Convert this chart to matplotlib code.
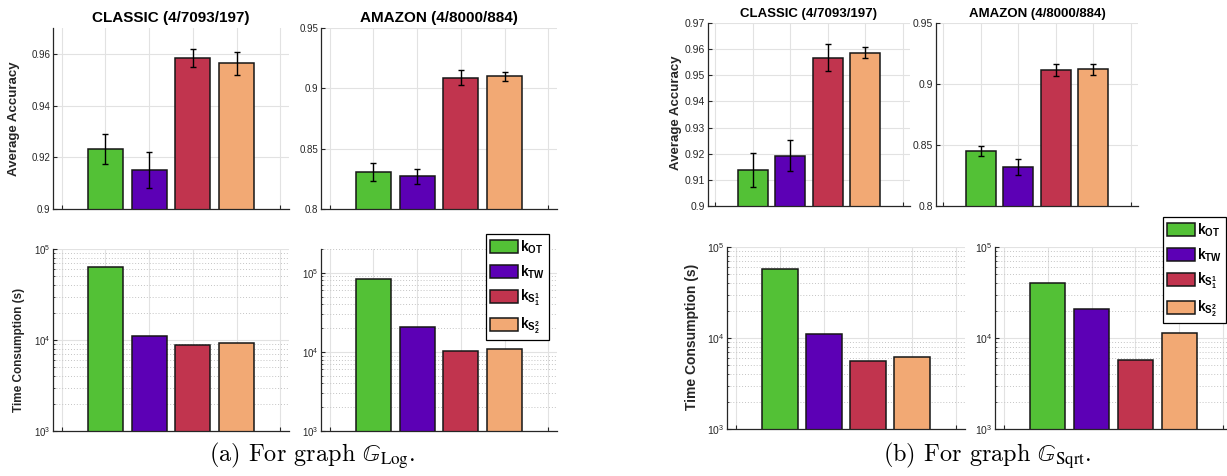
import numpy as np
import matplotlib
matplotlib.use('Agg')
import matplotlib.pyplot as plt
from matplotlib.ticker import FuncFormatter, NullFormatter, LogLocator

plt.rcParams['font.family'] = ['Liberation Sans', 'DejaVu Sans']
plt.rcParams['mathtext.fontset'] = 'custom'
plt.rcParams['mathtext.rm'] = 'Liberation Sans'
plt.rcParams['mathtext.bf'] = 'Liberation Sans:bold'
plt.rcParams['mathtext.it'] = 'Liberation Sans:italic'

W, H = 1227, 476

# legend labels and bar colours
methods = [r'$\mathbf{k_{OT}}$', r'$\mathbf{k_{TW}}$',
           r'$\mathbf{k_{S_1^1}}$', r'$\mathbf{k_{S_2^2}}$']
colors = ['#53C136', '#5C00B5', '#C1344E', '#F2A974']

# (a) graph G_Log
log_classic_acc = [0.9231, 0.9150, 0.9583, 0.9564]
log_classic_err = [0.0058, 0.0069, 0.0034, 0.0044]
log_amazon_acc = [0.8304, 0.8273, 0.9088, 0.9099]
log_amazon_err = [0.0074, 0.0062, 0.0064, 0.0040]
log_classic_time = [63000, 11000, 8750, 9300]
log_amazon_time = [84000, 20500, 10200, 11000]

# (b) graph G_Sqrt
sqrt_classic_acc = [0.9136, 0.9193, 0.9568, 0.9587]
sqrt_classic_err = [0.0065, 0.0060, 0.0052, 0.0021]
sqrt_amazon_acc = [0.8453, 0.8322, 0.9115, 0.9121]
sqrt_amazon_err = [0.0041, 0.0065, 0.0050, 0.0046]
sqrt_classic_time = [57900, 11100, 5650, 6250]
sqrt_amazon_time = [40300, 20800, 5700, 11250]

fig = plt.figure(figsize=(W / 100, H / 100), dpi=100)
x = np.arange(1, 5)


def place(l, t, r, b):
    return fig.add_axes([l / W, 1 - b / H, (r - l) / W, (b - t) / H])


def style(ax, tsize):
    for s in ['top', 'right']:
        ax.spines[s].set_visible(False)
    for s in ['left', 'bottom']:
        ax.spines[s].set_color('#262626')
        ax.spines[s].set_linewidth(0.9)
    ax.set_xlim(-0.2, 5.2)
    ax.set_xticks(range(6))
    ax.set_xticklabels([])
    ax.tick_params(direction='in', length=3, width=0.8, labelsize=tsize,
                   colors='#262626', pad=2)
    ax.grid(True, which='major', color='#E2E2E2', lw=0.8)
    ax.set_axisbelow(True)


def acc_panel(ax, vals, errs, lo, hi, step, title, tsize, fsize):
    style(ax, tsize)
    b = ax.bar(x, vals, width=0.8, color=colors, edgecolor='#161616', lw=1.1)
    ax.errorbar(x, vals, yerr=errs, fmt='none', ecolor='black',
                elinewidth=1, capsize=2.5, capthick=1)
    ax.set_ylim(lo, hi)
    ax.set_yticks(np.arange(lo, hi + 1e-9, step))
    ax.yaxis.set_major_formatter(FuncFormatter(lambda v, p: f'{v:g}'))
    ax.set_title(title, fontsize=fsize, fontweight='bold', pad=4)
    return b


def time_panel(ax, vals, top, tsize):
    style(ax, tsize)
    b = ax.bar(x, vals, width=0.8, color=colors, edgecolor='#161616', lw=1.1)
    ax.set_yscale('log')
    ax.set_ylim(1e3, top)
    ax.yaxis.set_major_locator(LogLocator(base=10, numticks=10))
    ax.yaxis.set_minor_locator(LogLocator(base=10, subs=np.arange(2, 10), numticks=20))
    ax.yaxis.set_minor_formatter(NullFormatter())
    ax.tick_params(which='minor', direction='in', length=1.5, width=0.6, colors='#262626')
    ax.grid(True, which='minor', axis='y', color='#C4C4C4', lw=0.7, linestyle=(0, (1, 2)))
    ax.set_xlim(-0.2, 5.2)
    return b


# (a)
ax = place(53, 28, 289, 209)
acc_panel(ax, log_classic_acc, log_classic_err, 0.9, 0.97, 0.02, 'CLASSIC (4/7093/197)', 7, 11)
ax = place(321, 28, 557, 209)
acc_panel(ax, log_amazon_acc, log_amazon_err, 0.8, 0.95, 0.05, 'AMAZON (4/8000/884)', 7, 11)
ax = place(53, 249, 289, 431)
time_panel(ax, log_classic_time, 1e5, 7)
ax = place(321, 249, 557, 431)
hb = time_panel(ax, log_amazon_time, 2e5, 7)

fig.text(14 / W, 1 - 119 / H, 'Average Accuracy', rotation=90, ha='center', va='center',
         fontsize=9.5, fontweight='bold', color='#262626')
fig.text(19 / W, 1 - 350 / H, 'Time Consumption (s)', rotation=90, ha='center', va='center',
         fontsize=8.5, fontweight='bold', color='#262626')

leg_kw = dict(loc='upper left', borderaxespad=0, fontsize=10, frameon=True, fancybox=False,
              edgecolor='black', framealpha=1, handlelength=2.0, handleheight=1.1,
              handletextpad=0.15, labelspacing=0.55, borderpad=0.3)
lg = fig.legend(hb, methods, bbox_to_anchor=(486 / W, 1 - 234 / H), **leg_kw)
lg.get_frame().set_linewidth(0.9)

# (b)
ax = place(708, 23, 910, 206)
acc_panel(ax, sqrt_classic_acc, sqrt_classic_err, 0.9, 0.97, 0.01, 'CLASSIC (4/7093/197)', 7.5, 9.5)
ax = place(936, 23, 1138, 206)
acc_panel(ax, sqrt_amazon_acc, sqrt_amazon_err, 0.8, 0.95, 0.05, 'AMAZON (4/8000/884)', 7.5, 9.5)
ax = place(727, 247, 965, 429)
time_panel(ax, sqrt_classic_time, 1e5, 7.5)
ax = place(995, 247, 1232, 429)
hb = time_panel(ax, sqrt_amazon_time, 1e5, 7.5)

fig.text(676 / W, 1 - 113 / H, 'Average Accuracy', rotation=90, ha='center', va='center',
         fontsize=9.5, fontweight='bold', color='#262626')
fig.text(692 / W, 1 - 337 / H, 'Time Consumption (s)', rotation=90, ha='center', va='center',
         fontsize=10, fontweight='bold', color='#262626')
lg = fig.legend(hb, methods, bbox_to_anchor=(1163 / W, 1 - 217 / H), **leg_kw)
lg.get_frame().set_linewidth(0.9)

# captions
fig.text(312 / W, 1 - 456 / H, r'(a) For graph $\mathbb{G}_{\mathrm{Log}}$.', family='cmr10',
         math_fontfamily='stix', ha='center', va='center', fontsize=17.5)
fig.text(987 / W, 1 - 456 / H, r'(b) For graph $\mathbb{G}_{\mathrm{Sqrt}}$.', family='cmr10',
         math_fontfamily='stix', ha='center', va='center', fontsize=17.5)

fig.savefig('out.png', dpi=100)
